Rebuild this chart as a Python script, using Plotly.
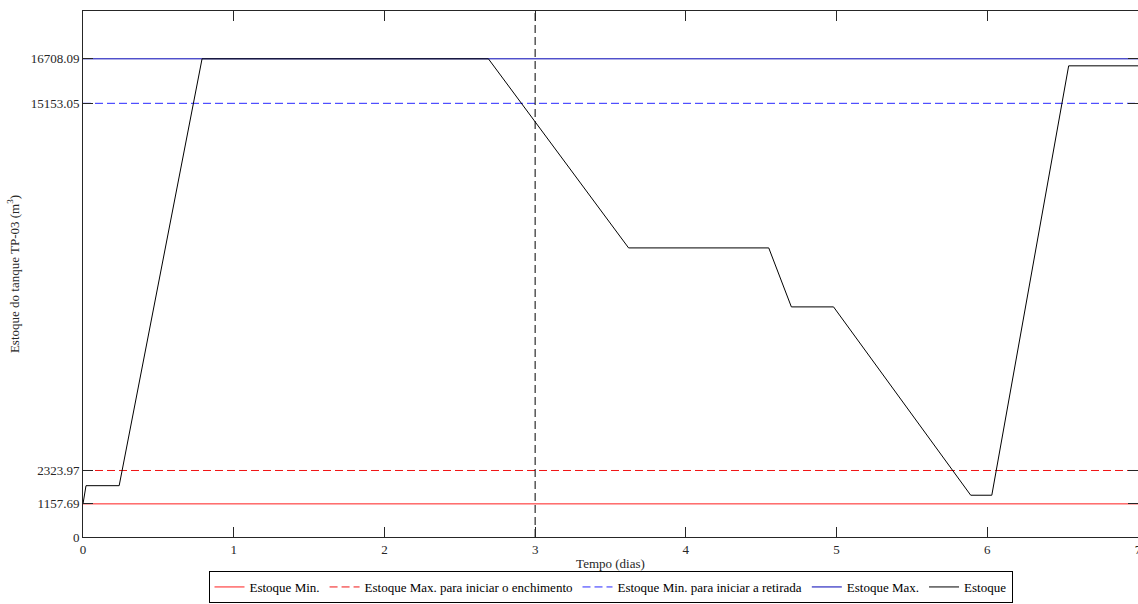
import plotly.graph_objects as go

# Limits (m^3)
estoque_min = 1157.69
estoque_max_enchimento = 2323.97
estoque_min_retirada = 15153.05
estoque_max = 16708.09

# Time span (days) and marker day
t_range = [0, 7]
marker_day = 3
y_top = 18378.9

# Stock series (Estoque)
tempo = [0, 0.02, 0.24, 0.79, 2.69, 3.62, 4.55, 4.70, 4.98, 5.89, 6.03, 6.54, 7.0]
estoque = [1157.69, 1793, 1793, 16708.09, 16708.09, 10101, 10101, 8040, 8040, 1460, 1460, 16463, 16463]

x_ticks = [0, 1, 2, 3, 4, 5, 6, 7]
y_ticks = [0, estoque_min, estoque_max_enchimento, estoque_min_retirada, estoque_max]
y_ticktext = ["0", "1157.69", "2323.97", "15153.05", "16708.09"]

font_family = "'Liberation Serif', 'DejaVu Serif', serif"
axis_color = "rgb(38,38,38)"
dash_style = "8px,4px"

fig = go.Figure()

fig.add_trace(go.Scatter(x=t_range, y=[estoque_min] * 2, mode="lines",
                         line=dict(color="rgb(255,30,30)", width=1), name="Estoque Min."))
fig.add_trace(go.Scatter(x=t_range, y=[estoque_max_enchimento] * 2, mode="lines",
                         line=dict(color="rgb(240,20,20)", width=1, dash=dash_style),
                         name="Estoque Max. para iniciar o enchimento"))
fig.add_trace(go.Scatter(x=t_range, y=[estoque_min_retirada] * 2, mode="lines",
                         line=dict(color="rgb(40,40,255)", width=1, dash=dash_style),
                         name="Estoque Min. para iniciar a retirada"))
fig.add_trace(go.Scatter(x=t_range, y=[estoque_max] * 2, mode="lines",
                         line=dict(color="rgb(0,0,180)", width=1), name="Estoque Max."))
fig.add_trace(go.Scatter(x=tempo, y=estoque, mode="lines",
                         line=dict(color="black", width=1), name="Estoque"))
fig.add_trace(go.Scatter(x=[marker_day, marker_day], y=[0, y_top], mode="lines",
                         line=dict(color="black", width=1, dash=dash_style),
                         showlegend=False, hoverinfo="skip"))

fig.update_layout(
    width=1138, height=604,
    margin=dict(l=83, r=0, t=11, b=67, autoexpand=False),
    paper_bgcolor="white", plot_bgcolor="white",
    font=dict(family=font_family, size=13, color="black"),
    showlegend=True,
    legend=dict(orientation="h", x=0.5, xanchor="center",
                yref="container", y=1.0 / 604, yanchor="bottom",
                bordercolor="black", borderwidth=1, bgcolor="white",
                font=dict(family=font_family, size=13, color="black"),
                itemwidth=30, tracegroupgap=0),
)

fig.update_xaxes(
    range=t_range, tickvals=x_ticks, showgrid=False, zeroline=False,
    showline=True, linecolor=axis_color, linewidth=1, mirror="ticks",
    ticks="inside", ticklen=10, tickcolor=axis_color, ticklabeloverflow="allow",
    tickfont=dict(family=font_family, size=13, color=axis_color),
    title=dict(text="Tempo (dias)", font=dict(family=font_family, size=13, color=axis_color), standoff=12),
)
fig.update_yaxes(
    range=[0, y_top], tickvals=y_ticks, ticktext=y_ticktext, showgrid=False, zeroline=False,
    showline=True, linecolor=axis_color, linewidth=1, mirror="ticks",
    ticks="inside", ticklen=10, tickcolor=axis_color,
    tickfont=dict(family=font_family, size=13, color=axis_color),
    title=dict(text="Estoque do tanque TP-03 (m<sup>3</sup>)",
               font=dict(family=font_family, size=13, color=axis_color), standoff=8),
)

fig.write_html("out.html")
